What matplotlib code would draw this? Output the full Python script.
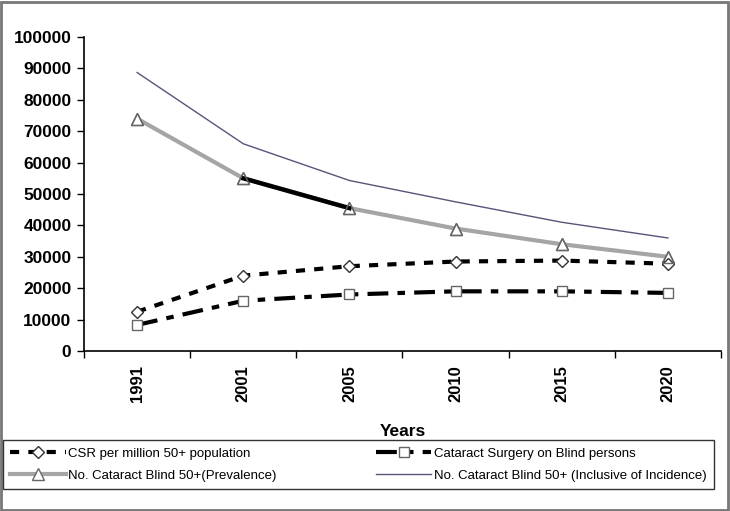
import matplotlib
matplotlib.use("Agg")
import matplotlib.pyplot as plt
from matplotlib.patches import Rectangle

years = ["1991", "2001", "2005", "2010", "2015", "2020"]
csr = [12500, 24000, 27000, 28500, 28800, 27800]
surgery_blind = [8300, 16000, 18000, 19000, 19000, 18500]
prevalence = [74000, 55000, 45500, 39000, 34000, 30000]
incidence = [88700, 66000, 54300, 47500, 41000, 36000]
y_ticks = [0, 10000, 20000, 30000, 40000, 50000, 60000, 70000, 80000, 90000, 100000]

plt.rcParams['font.family'] = ['Liberation Sans', 'DejaVu Sans']

fig = plt.figure(figsize=(7.3, 5.11), dpi=100)
ax = fig.add_axes([84/730, 160/511, 637/730, 314/511])
x = list(range(len(years)))

l_inc, = ax.plot(x, incidence, color='#55557a', lw=1.0,
                 label='No. Cataract Blind 50+ (Inclusive of Incidence)')
l_prev, = ax.plot(x, prevalence, color='#a5a5a5', lw=3.0, marker='^', ms=8,
                  mfc='white', mec='#666666', mew=1.0,
                  label='No. Cataract Blind 50+(Prevalence)')
ax.plot(x[1:3], prevalence[1:3], color='black', lw=3.2, zorder=3)
ax.plot(x, prevalence, ls='none', marker='^', ms=8, mfc='none', mec='#666666', mew=1.0, zorder=4)
l_csr, = ax.plot(x, csr, color='black', lw=3, ls=(0, (2.2, 2.2)), marker='D', ms=6,
                 mfc='white', mec='#333333', mew=1.0,
                 label='CSR per million 50+ population')
l_sur, = ax.plot(x, surgery_blind, color='black', lw=3, ls=(0, (5, 2.2, 1.8, 2.2)), marker='s', ms=7.5,
                 mfc='white', mec='#666666', mew=1.0,
                 label='Cataract Surgery on Blind persons')

ax.set_xlim(-0.5, len(years) - 0.5)
ax.set_ylim(0, 100000)
ax.set_yticks(y_ticks)
ax.set_yticklabels([str(v) for v in y_ticks], fontsize=12.5, fontweight='bold')
ax.set_xticks([i - 0.5 for i in range(len(years) + 1)])
ax.set_xticklabels([])
ax.set_xticks(x, minor=True)
ax.set_xticklabels(years, minor=True, rotation=90, fontsize=12, fontweight='bold')
ax.tick_params(axis='x', which='minor', length=0, pad=10)
ax.tick_params(axis='x', which='major', length=5, direction='out', width=1)
ax.tick_params(axis='y', length=5, direction='out', width=1, pad=4)
ax.spines['top'].set_visible(False)
ax.spines['right'].set_visible(False)
ax.spines['left'].set_linewidth(1.2)
ax.spines['bottom'].set_linewidth(1.2)
ax.set_xlabel('Years', fontsize=12.5, fontweight='bold', labelpad=16)

handles = [l_csr, l_prev, l_sur, l_inc]
leg = fig.legend(handles, [h.get_label() for h in handles],
                 loc='lower left', bbox_to_anchor=(3/730, 22/511, 711/730, 51/511),
                 mode='expand', ncol=2, fontsize=9.5, frameon=True, fancybox=False,
                 edgecolor='black', borderaxespad=0, handlelength=4.2, handletextpad=0.2,
                 columnspacing=2, labelspacing=0.75, borderpad=0.55)
leg.get_frame().set_linewidth(1.0)

fig.patches.append(Rectangle((1/730, 1/511), 727/730, 508/511, transform=fig.transFigure,
                             fill=False, edgecolor='#777777', lw=2))

fig.savefig('out.png', dpi=100)
